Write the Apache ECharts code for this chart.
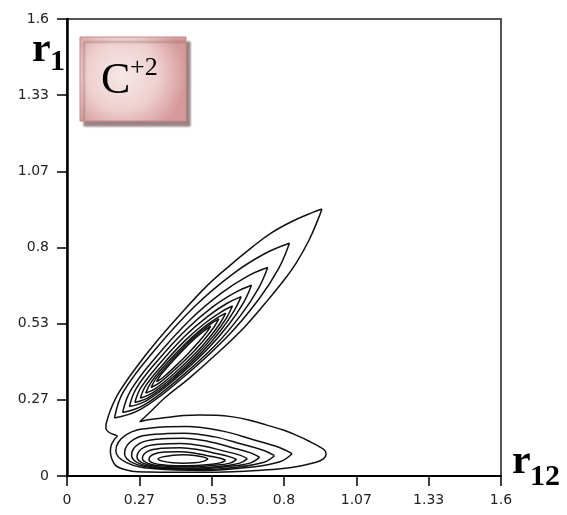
<!DOCTYPE html>
<html>
<head>
<meta charset="utf-8">
<script src="https://cdn.jsdelivr.net/npm/echarts@6/dist/echarts.min.js"></script>
<style>html,body{margin:0;padding:0;background:#fff;}#c{width:567px;height:515px;}</style>
</head>
<body>
<div id="c"></div>
<script>
// ---- data (axis units: [r12, r1]) ----
const xTickLabels = ['0', '0.27', '0.53', '0.8', '1.07', '1.33', '1.6'];
const yTickLabels = ['0', '0.27', '0.53', '0.8', '1.07', '1.33', '1.6'];
const axisMax = 1.6;

// outermost contour (encloses both lobes)
const outerRing = [[0.94,0.935],[0.927,0.902],[0.893,0.827],[0.847,0.749],[0.801,0.687],[0.729,0.603],[0.655,0.522],[0.550,0.426],[0.449,0.341],[0.361,0.274],[0.30,0.218],[0.268,0.19],
  [0.30,0.197],[0.367,0.205],[0.43,0.212],[0.489,0.214],[0.55,0.213],[0.612,0.207],[0.67,0.196],[0.734,0.179],[0.80,0.16],[0.857,0.138],[0.90,0.118],[0.93,0.103],[0.952,0.088],[0.955,0.075],[0.945,0.06],[0.918,0.048],[0.86,0.035],[0.796,0.026],[0.70,0.019],[0.612,0.015],[0.50,0.013],[0.40,0.013],[0.30,0.014],[0.24,0.017],[0.20,0.026],[0.178,0.038],[0.165,0.06],[0.16,0.085],[0.163,0.108],[0.175,0.128],[0.185,0.14],
  [0.17,0.146],[0.152,0.155],[0.143,0.168],[0.145,0.185],[0.16,0.23],[0.190,0.29],[0.255,0.380],[0.325,0.465],[0.414,0.562],[0.514,0.664],[0.598,0.735],[0.685,0.803],[0.748,0.848],[0.829,0.891],[0.906,0.923],[0.94,0.935]];

// upper (diagonal) lobe contours, outer to inner
const upper2 = [[0.175,0.203],[0.271,0.233],[0.418,0.337],[0.586,0.483],[0.705,0.616],[0.781,0.728],[0.82,0.815],[0.730,0.779],[0.612,0.708],[0.473,0.596],[0.319,0.436],[0.208,0.295],[0.175,0.203]];
const upper3 = [[0.205,0.222],[0.283,0.248],[0.405,0.335],[0.545,0.456],[0.643,0.566],[0.707,0.659],[0.74,0.73],[0.666,0.700],[0.569,0.640],[0.454,0.547],[0.326,0.414],[0.234,0.298],[0.205,0.222]];
const upper4 = [[0.23,0.243],[0.295,0.265],[0.397,0.338],[0.514,0.440],[0.598,0.532],[0.652,0.609],[0.68,0.668],[0.619,0.642],[0.537,0.592],[0.441,0.514],[0.333,0.403],[0.255,0.306],[0.23,0.243]];
const upper5 = [[0.25,0.257],[0.306,0.278],[0.394,0.342],[0.495,0.431],[0.568,0.511],[0.616,0.578],[0.642,0.628],[0.589,0.604],[0.520,0.560],[0.436,0.491],[0.342,0.394],[0.273,0.310],[0.25,0.257]];
const upper6 = [[0.27,0.272],[0.317,0.292],[0.393,0.348],[0.480,0.426],[0.544,0.495],[0.587,0.552],[0.61,0.595],[0.566,0.573],[0.506,0.533],[0.434,0.473],[0.352,0.389],[0.291,0.317],[0.27,0.272]];
const upper7 = [[0.29,0.29],[0.329,0.308],[0.394,0.358],[0.470,0.426],[0.526,0.486],[0.564,0.534],[0.585,0.57],[0.548,0.550],[0.497,0.515],[0.435,0.462],[0.363,0.390],[0.310,0.328],[0.29,0.29]];
const upper8 = [[0.31,0.31],[0.342,0.327],[0.396,0.371],[0.460,0.429],[0.508,0.480],[0.541,0.520],[0.56,0.55],[0.529,0.532],[0.487,0.500],[0.435,0.455],[0.374,0.393],[0.328,0.341],[0.31,0.31]];
const upper9 = [[0.33,0.33],[0.354,0.345],[0.397,0.382],[0.448,0.430],[0.486,0.470],[0.514,0.502],[0.53,0.525],[0.507,0.509],[0.474,0.483],[0.432,0.445],[0.383,0.395],[0.346,0.354],[0.33,0.33]];

// lower (horizontal) lobe contours, outer to inner
const lower2 = [[0.83,0.078],[0.785,0.050],[0.668,0.030],[0.505,0.019],[0.323,0.025],[0.219,0.047],[0.18,0.088],[0.219,0.145],[0.31,0.168],[0.44,0.173],[0.57,0.158],[0.687,0.127],[0.785,0.099],[0.83,0.078]];
const lower3 = [[0.765,0.071],[0.726,0.048],[0.627,0.031],[0.489,0.022],[0.334,0.027],[0.245,0.045],[0.212,0.080],[0.245,0.127],[0.323,0.146],[0.433,0.150],[0.544,0.137],[0.643,0.112],[0.726,0.089],[0.765,0.071]];
const lower4 = [[0.71,0.066],[0.677,0.046],[0.592,0.033],[0.474,0.025],[0.342,0.029],[0.266,0.044],[0.238,0.073],[0.266,0.113],[0.332,0.129],[0.427,0.132],[0.521,0.121],[0.606,0.100],[0.677,0.081],[0.71,0.066]];
const lower5 = [[0.665,0.061],[0.637,0.045],[0.563,0.034],[0.462,0.028],[0.348,0.031],[0.282,0.044],[0.258,0.067],[0.282,0.099],[0.339,0.111],[0.421,0.114],[0.502,0.105],[0.576,0.088],[0.637,0.073],[0.665,0.061]];
const lower6 = [[0.625,0.058],[0.601,0.045],[0.538,0.037],[0.452,0.032],[0.354,0.035],[0.299,0.044],[0.278,0.062],[0.299,0.087],[0.347,0.097],[0.417,0.099],[0.486,0.092],[0.549,0.079],[0.601,0.067],[0.625,0.058]];
const lower7 = [[0.585,0.055],[0.565,0.046],[0.514,0.039],[0.444,0.036],[0.364,0.038],[0.319,0.045],[0.302,0.058],[0.319,0.076],[0.359,0.084],[0.415,0.085],[0.472,0.080],[0.523,0.070],[0.565,0.062],[0.585,0.055]];
const lower8 = [[0.52,0.0595],[0.505,0.052],[0.47,0.046],[0.428,0.045],[0.39,0.046],[0.352,0.052],[0.336,0.0595],[0.352,0.067],[0.39,0.0725],[0.428,0.074],[0.47,0.072],[0.505,0.066],[0.52,0.0595]];

const contours = [outerRing, upper2, upper3, upper4, upper5, upper6, upper7, upper8, upper9,
                  lower2, lower3, lower4, lower5, lower6, lower7, lower8];

// ---- chart ----
const chart = echarts.init(document.getElementById('c'), null, {renderer: 'canvas'});
const step = axisMax / 6;
const labelFont = {fontFamily: '"DejaVu Sans", sans-serif', fontSize: 14, color: '#222'};

const series = contours.map(function (ring) {
  return {
    type: 'line', data: ring, showSymbol: false, smooth: 0.4, silent: true,
    lineStyle: {color: '#111', width: 1.5}, z: 3
  };
});

const serif = '"Liberation Serif", "Times New Roman", serif';
chart.setOption({
  animation: false,
  backgroundColor: '#fff',
  grid: {left: 67, right: 66, top: 19, bottom: 39, show: true, borderColor: '#555', borderWidth: 2, backgroundColor: 'transparent'},
  xAxis: {
    type: 'value', min: 0, max: axisMax, interval: step,
    axisLine: {show: true, onZero: false, lineStyle: {color: '#000', width: 2}},
    axisTick: {show: true, length: 10, lineStyle: {color: '#000', width: 1.5}},
    splitLine: {show: false},
    axisLabel: Object.assign({margin: 17, showMinLabel: true, showMaxLabel: true,
      formatter: function (v) { return xTickLabels[Math.round(v / step)]; }}, labelFont)
  },
  yAxis: {
    type: 'value', min: 0, max: axisMax, interval: step,
    axisLine: {show: true, onZero: false, lineStyle: {color: '#000', width: 2.5}},
    axisTick: {show: true, length: 10, lineStyle: {color: '#000', width: 1.5}},
    splitLine: {show: false},
    axisLabel: Object.assign({margin: 18, showMinLabel: true, showMaxLabel: true,
      formatter: function (v) { return yTickLabels[Math.round(v / step)]; }}, labelFont)
  },
  series: series,
  graphic: [
    {type: 'rect', z: 10, shape: {x: 80, y: 37, width: 106, height: 84},
     style: {
       fill: new echarts.graphic.RadialGradient(0.4, 0.45, 0.75, [
         {offset: 0, color: '#f7e8e8'}, {offset: 0.55, color: '#efd0d0'}, {offset: 1, color: '#d69a9a'}]),
       stroke: '#c98888', lineWidth: 1,
       shadowColor: 'rgba(120,90,90,0.75)', shadowBlur: 2, shadowOffsetX: 4, shadowOffsetY: 5
     }},
    {type: 'text', z: 11, style: {text: 'C', x: 101, y: 81, font: '44px ' + serif, fill: '#000', align: 'left', verticalAlign: 'middle'}},
    {type: 'text', z: 11, style: {text: '+2', x: 130, y: 68, font: '26px ' + serif, fill: '#000', align: 'left', verticalAlign: 'middle'}},
    {type: 'text', z: 11, style: {text: 'r', x: 32, y: 50, font: 'bold 42px ' + serif, fill: '#000', align: 'left', verticalAlign: 'middle'}},
    {type: 'text', z: 11, style: {text: '1', x: 50, y: 62, font: 'bold 30px ' + serif, fill: '#000', align: 'left', verticalAlign: 'middle'}},
    {type: 'text', z: 11, style: {text: 'r', x: 512, y: 462, font: 'bold 42px ' + serif, fill: '#000', align: 'left', verticalAlign: 'middle'}},
    {type: 'text', z: 11, style: {text: '12', x: 530, y: 477, font: 'bold 30px ' + serif, fill: '#000', align: 'left', verticalAlign: 'middle'}}
  ]
});
</script>
</body>
</html>
